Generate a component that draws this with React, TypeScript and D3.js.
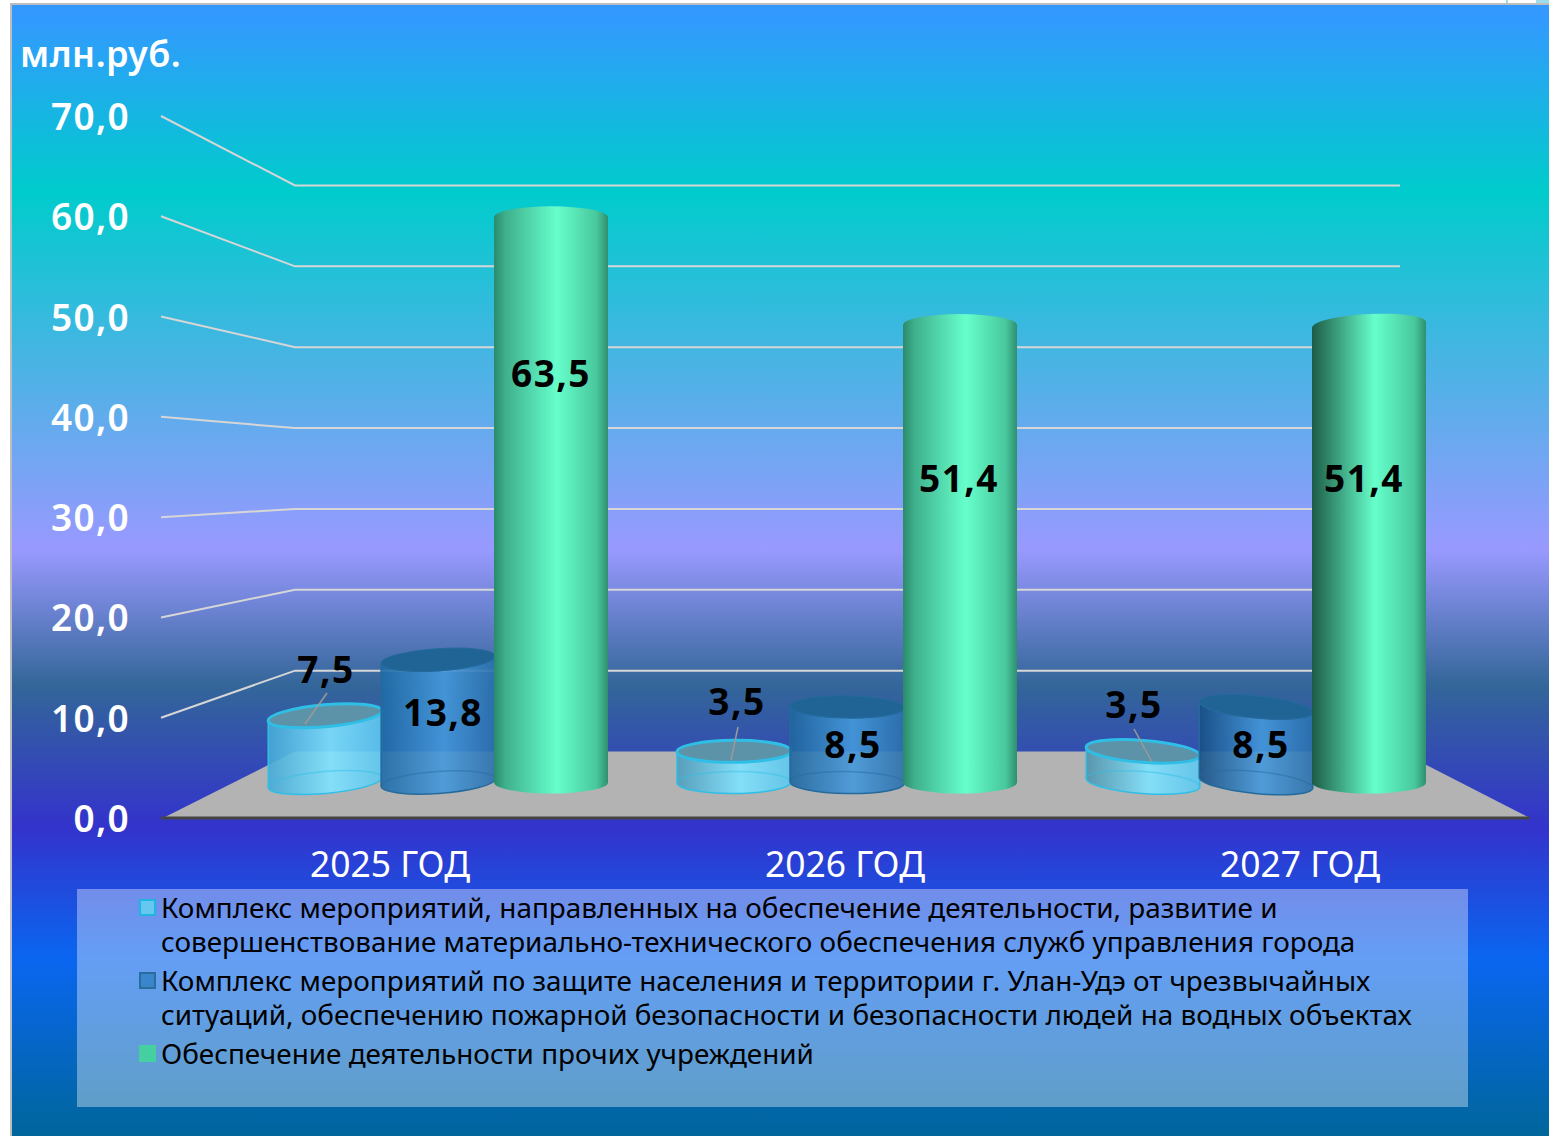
import React, { useEffect, useRef } from 'react';
import * as d3 from 'd3';

const years = ['2025 ГОД', '2026 ГОД', '2027 ГОД'];
const ticks = [0, 10, 20, 30, 40, 50, 60, 70];
const complexServices = [7.5, 3.5, 3.5];
const complexProtection = [13.8, 8.5, 8.5];
const otherInstitutions = [63.5, 51.4, 51.4];
const seriesValues = [complexServices, complexProtection, otherInstitutions];

const legendLines = [
	['Комплекс мероприятий, направленных на обеспечение деятельности, развитие и',
		'совершенствование материально-технического обеспечения служб управления города'],
	['Комплекс мероприятий по защите населения и территории г. Улан-Удэ от чрезвычайных',
		'ситуаций, обеспечению пожарной безопасности и безопасности людей на водных объектах'],
	['Обеспечение деятельности прочих учреждений']
];

const fmt = (v: number) => v.toFixed(1).replace('.', ',');

const WIDTH = 1549;
const HEIGHT = 1136;
const FONT = '"Noto Sans", sans-serif';

// colours per series: left shade per year, highlight, right, top cap, outline
const styles = [
	{ left: ['#45a9d6', '#4d9cbc', '#4f93ac'], mid: '#7fe3ff', right: '#5cc6ee', cap: '#5c93a8', stroke: '#2fbfe6', opacity: 0.9, tilt: 1, swatch: '#66c8f0', swatchStroke: '#22b4e0' },
	{ left: ['#1f6aa6', '#1f659e', '#174f85'], mid: '#4599dc', right: '#2a70ac', cap: '#1f6494', stroke: '#256a9c', opacity: 0.9, tilt: 1, swatch: '#3a86cc', swatchStroke: '#2a6c9c' },
	{ left: ['#2a8a6c', '#2b8a6c', '#1c5c48'], mid: '#66ffcc', right: '#3dbb90', cap: '', stroke: '#2f9c7a', opacity: 1, tilt: 0, swatch: '#44d0a0', swatchStroke: '#44d0a0' }
];
// the tall cylinders lean only at the top edge
const greenTopTilt = [0, 0, -3];

// hand placed label spots, same order as seriesValues
const labelSpots = [
	[[326, 670], [737, 702], [1134, 705]],
	[[443, 713], [853, 745], [1261, 745]],
	[[551, 374], [959, 479], [1364, 479]]
];
const leaderLines = [
	[[327, 693], [305, 724]],
	[[738, 727], [731, 760]],
	[[1134, 729], [1152, 762]]
];

export default function App () {
	const ref = useRef<SVGSVGElement>(null);

	useEffect(() => {
		const svg = d3.select(ref.current);
		svg.selectAll('*').remove();
		const defs = svg.append('defs');

		const bg = defs.append('linearGradient').attr('id', 'bg').attr('x1', 0).attr('x2', 0).attr('y1', 0).attr('y2', 1);
		[[0.01, '#3399ff'], [0.165, '#00cccc'], [0.48, '#9999ff'], [0.6, '#336699'], [0.725, '#3333cc'], [0.84, '#0a66f0'], [1, '#006699']]
			.forEach(([o, c]) => bg.append('stop').attr('offset', o as number).attr('stop-color', c as string));

		styles.forEach((s, i) => {
			years.forEach((_, j) => {
				const g = defs.append('linearGradient').attr('id', `cyl${i}${j}`);
				g.append('stop').attr('offset', 0).attr('stop-color', s.left[j]);
				if (i === 2) g.append('stop').attr('offset', 0.1).attr('stop-color', j === 2 ? '#2a7a5e' : '#3fb08c');
				g.append('stop').attr('offset', 0.55).attr('stop-color', s.mid);
				if (i === 2) g.append('stop').attr('offset', 0.9).attr('stop-color', '#48c89c');
				g.append('stop').attr('offset', 1).attr('stop-color', i === 2 ? '#2f8f70' : s.right);
			});
		});

		// page backdrop with the slide frame
		svg.append('rect').attr('width', WIDTH).attr('height', HEIGHT).attr('fill', '#fff');
		svg.append('rect').attr('x', 11).attr('y', 4).attr('width', WIDTH).attr('height', HEIGHT)
			.attr('fill', 'url(#bg)').attr('stroke', '#bdbdbd').attr('stroke-width', 2);
		svg.append('rect').attr('x', 1506).attr('y', 0).attr('width', 2).attr('height', 3).attr('fill', '#9fdcec');
		svg.append('rect').attr('x', 1536).attr('y', 0).attr('width', 13).attr('height', 3).attr('fill', '#9fdcec');

		const yFront = d3.scaleLinear().domain([0, 70]).range([818, 116]);
		const yBack = d3.scaleLinear().domain([0, 70]).range([751.5, 185.5]);
		const yBar = d3.scaleLinear().domain([0, 70]).range([782.5, 782.5 - 70 * 8.9]);
		const xGroup = d3.scalePoint().domain(years).range([438, 1256]);
		const xSeries = d3.scaleLinear().domain([0, 2]).range([-113, 113]);
		const xYear = d3.scalePoint().domain(years).range([390, 1300]);

		// walls
		const grid = svg.append('g').attr('fill', 'none').attr('stroke', '#d6d6d6').attr('stroke-width', 2);
		ticks.filter(t => t > 0).forEach(t => {
			grid.append('path')
				.attr('d', d3.line()([[161, yFront(t)], [295, yBack(t)], [1400, yBack(t)]]));
		});

		// floor
		svg.append('path')
			.attr('d', d3.line()([[163, yFront(0)], [295, yBack(0)], [1400, yBack(0)], [1530, yFront(0)]]) + 'Z')
			.attr('fill', '#b3b3b3');
		svg.append('line')
			.attr('x1', 161).attr('x2', 1530).attr('y1', yFront(0)).attr('y2', yFront(0))
			.attr('stroke', '#444').attr('stroke-width', 3);

		ticks.forEach(t => {
			svg.append('text')
				.attr('x', 130).attr('y', yFront(t) + 14)
				.attr('text-anchor', 'end')
				.attr('font-family', FONT).attr('font-size', 37).attr('font-weight', 600)
				.attr('letter-spacing', 1.3)
				.attr('fill', '#fff')
				.text(fmt(t));
		});

		svg.append('text')
			.attr('x', 20).attr('y', 67)
			.attr('font-family', FONT).attr('font-size', 36).attr('font-weight', 600)
			.attr('letter-spacing', 0.5)
			.attr('fill', '#fff')
			.text('млн.руб.');

		// cylinders
		const rx = 57;
		const ry = 11;
		years.forEach((year, j) => {
			seriesValues.forEach((values, i) => {
				const s = styles[i];
				const cx = xGroup(year) + xSeries(i);
				const angle = (cx - 770) * 0.0115 * s.tilt;
				const rad = angle * Math.PI / 180;
				const dx = rx * Math.cos(rad);
				const dy = rx * Math.sin(rad);
				const top = yBar(values[j]);
				const base = yBar(0);
				// green: the top edge is one with the body, no separate cap
				const topAngle = i === 2 ? greenTopTilt[j] : angle;
				const topDy = rx * Math.sin(topAngle * Math.PI / 180);
				const g = svg.append('g');
				const body = `M${cx - dx},${top - topDy} L${cx - dx},${base - dy}`
					+ ` A${rx},${ry} ${angle} 0 0 ${cx + dx},${base + dy}`
					+ ` L${cx + dx},${top + topDy}`
					+ ` A${rx},${ry} ${topAngle} 0 ${i === 2 ? 0 : 1} ${cx - dx},${top - topDy} Z`;
				g.append('path').attr('d', body)
					.attr('fill', `url(#cyl${i}${j})`)
					.attr('fill-opacity', s.opacity)
					.attr('stroke', s.stroke).attr('stroke-width', i === 2 ? 0 : 1.5);
				if (i < 2) {
					// far rim of the base shows through the glass
					g.append('path')
						.attr('d', `M${cx - dx},${base - dy} A${rx},${ry} ${angle} 0 1 ${cx + dx},${base + dy}`)
						.attr('fill', 'none').attr('stroke', s.stroke).attr('stroke-opacity', 0.45).attr('stroke-width', 1.5);
					g.append('ellipse')
						.attr('rx', rx).attr('ry', ry)
						.attr('transform', `translate(${cx},${top}) rotate(${angle})`)
						.attr('fill', s.cap)
						.attr('stroke', s.stroke).attr('stroke-width', i === 0 ? 3 : 1);
				}
			});
		});

		leaderLines.forEach(l => {
			svg.append('path').attr('d', d3.line()(l as [number, number][]))
				.attr('stroke', '#9a9a9a').attr('stroke-width', 1.5).attr('fill', 'none');
		});

		seriesValues.forEach((values, i) => {
			values.forEach((v, j) => {
				svg.append('text')
					.attr('x', labelSpots[i][j][0]).attr('y', labelSpots[i][j][1] + 13)
					.attr('text-anchor', 'middle')
					.attr('font-family', FONT).attr('font-size', 37).attr('font-weight', 700)
					.attr('letter-spacing', 1.5)
					.attr('fill', '#000')
					.text(fmt(v));
			});
		});

		// year labels
		years.forEach(year => {
			svg.append('text')
				.attr('x', xYear(year)).attr('y', 877)
				.attr('text-anchor', 'middle')
				.attr('font-family', FONT).attr('font-size', 37)
				.attr('textLength', 160).attr('lengthAdjust', 'spacingAndGlyphs')
				.attr('fill', '#fff')
				.text(year);
		});

		// legend panel
		svg.append('rect')
			.attr('x', 77).attr('y', 889).attr('width', 1391).attr('height', 218)
			.attr('fill', '#fff').attr('fill-opacity', 0.37);

		const legendTop = [908, 981, 1054];
		legendLines.forEach((lines, i) => {
			const s = styles[i];
			svg.append('rect')
				.attr('x', 140).attr('y', legendTop[i] - 8).attr('width', 15).attr('height', 15)
				.attr('fill', s.swatch).attr('stroke', s.swatchStroke).attr('stroke-width', 2);
			lines.forEach((line, k) => {
				svg.append('text')
					.attr('x', 161).attr('y', legendTop[i] + 10 + k * 34)
					.attr('font-family', FONT).attr('font-size', 27.87)
					.attr('fill', '#000')
					.text(line);
			});
		});
	}, []);

	return (
		<svg ref={ref} width={WIDTH} height={HEIGHT} style={{ position: 'absolute', left: 0, top: 0 }} />
	);
}
